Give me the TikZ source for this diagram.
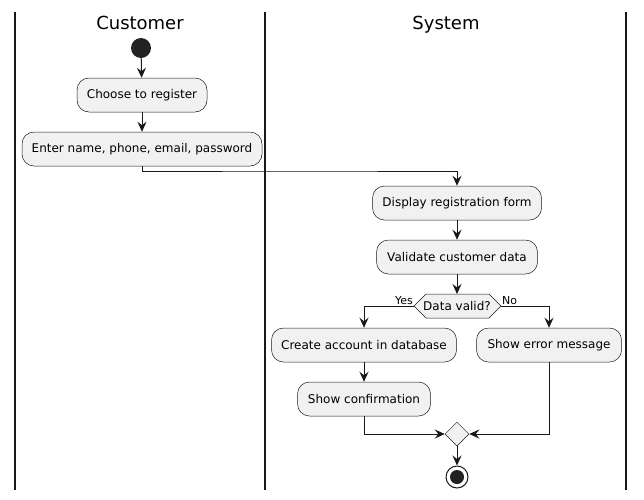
\documentclass[tikz,border=0pt]{standalone}
\usepackage{fontspec}
\setmainfont{DejaVu Sans}
\usetikzlibrary{arrows.meta,shapes.geometric}
\definecolor{ln}{HTML}{181818}
\definecolor{bx}{HTML}{F1F1F1}
\definecolor{dk}{HTML}{222222}
\tikzset{
  act/.style={draw=ln,line width=0.5pt,fill=bx,rounded corners=12pt,minimum height=34pt,inner xsep=9pt,font=\fontsize{12}{14}\selectfont},
  flow/.style={draw=ln,line width=1pt,-{Stealth[length=10pt,width=9pt,inset=3.5pt]}},
  lane/.style={draw=ln,line width=1.5pt},
  ttl/.style={font=\fontsize{18}{21}\selectfont,anchor=base,inner sep=0pt},
  lbl/.style={font=\fontsize{11}{13}\selectfont,inner sep=0pt}
}
\begin{document}
\begin{tikzpicture}[x=1pt,y=-1pt]
\useasboundingbox (0,0) rectangle (644,499);
% lanes
\coordinate (l1t) at (15,12); \coordinate (l1b) at (15,490);
\coordinate (l2t) at (265,12); \coordinate (l2b) at (265,490);
\coordinate (l3t) at (626,12); \coordinate (l3b) at (626,490);
\draw[lane] (l1t) -- (l1b);
\draw[lane] (l2t) -- (l2b);
\draw[lane] (l3t) -- (l3b);
\node[ttl] (t1) at (140,29) {Customer};
\node[ttl] (t2) at (446,29) {System};
% start
\node[circle,fill=dk,minimum size=20pt,inner sep=0pt] (start) at (141,48) {};
\node[act,minimum width=130pt] (choose) at (142,95) {Choose to register};
\node[act,minimum width=240pt] (enter) at (142,149) {Enter name, phone, email, password};
\node[act,minimum width=169pt] (disp) at (457,203) {Display registration form};
\node[act,minimum width=161pt] (valid) at (457,257) {Validate customer data};
% decision
\coordinate (decL) at (414,306);
\coordinate (decR) at (501,306);
\coordinate (decT) at (457,294);
\draw[draw=ln,line width=0.5pt,fill=bx] (decL) -- (426,294) -- (489,294) -- (decR) -- (489,318) -- (426,318) -- cycle;
\node[lbl,font=\fontsize{12}{14}\selectfont] (dec) at (457,306) {Data valid?};
\node[lbl,anchor=south east] (yes) at (413,305) {Yes};
\node[lbl,anchor=south west] (no) at (502,305) {No};
\node[act,minimum width=185pt] (create) at (364,345) {Create account in database};
\node[act,minimum width=145pt] (err) at (549,345) {Show error message};
\node[act,minimum width=133pt] (conf) at (364,399) {Show confirmation};
\node[diamond,draw=ln,line width=0.5pt,fill=bx,minimum width=24pt,minimum height=24pt,inner sep=0pt] (merge) at (457,434) {};
% end
\node[circle,draw=ln,line width=1pt,fill=white,minimum size=22pt,inner sep=0pt] (stop) at (457,477) {};
\node[circle,fill=dk,minimum size=14pt,inner sep=0pt] (stopin) at (stop) {};
% flows
\draw[flow] (start) -- (choose);
\draw[flow] (choose) -- (enter);
\draw[flow] (enter.south) |- (300,171) -| (disp.north);
\draw[flow] (disp) -- (valid);
\draw[flow] (valid) -- (decT);
\draw[flow] (decL) -| (create.north);
\draw[flow] (decR) -| (err.north);
\draw[flow] (create) -- (conf);
\draw[flow] (conf.south) |- (merge.west);
\draw[flow] (err.south) |- (merge.east);
\draw[flow] (merge.south) -- (stop.north);
\end{tikzpicture}
\end{document}
